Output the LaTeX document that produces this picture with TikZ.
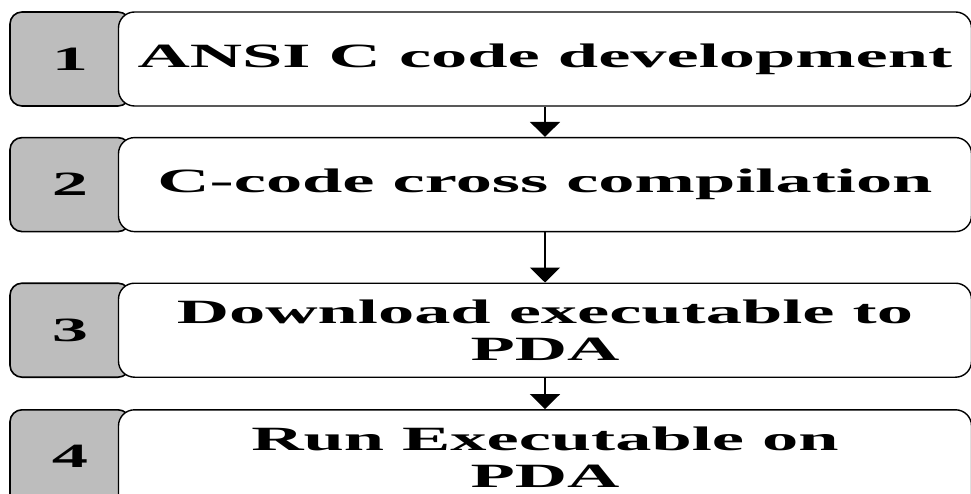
\documentclass[tikz,border=0pt]{standalone}
\usepackage{fontspec}
\usepackage{xcolor}
\usepackage{tikz}
\usetikzlibrary{arrows.meta,positioning}
\newfontfamily\stepfont{Liberation Serif}[FakeStretch=2.13]
\definecolor{tabgray}{rgb}{0.74,0.74,0.74}

\begin{document}
\begin{tikzpicture}[
  x=1pt,y=1pt,
  every node/.style={font={\stepfont\fontsize{34}{37}\selectfont\bfseries},align=center},
  arrow/.style={-{Triangle[width=30pt,length=15pt]},line width=1.6pt},
  tab/.style={rectangle,draw=black,line width=1.6pt,rounded corners=12pt,
              fill=tabgray,minimum width=120pt,inner sep=0pt},
  stepbox/.style={rectangle,draw=black,line width=1.4pt,rounded corners=16pt,
                  fill=white,minimum width=853pt,inner sep=0pt}
]
\useasboundingbox (0,0) rectangle (971,-494);
\clip (0,0) rectangle (971,-494);

\node[tab,minimum height=94pt]                   (tab1) at (70,-59) {1};
\node[tab,minimum height=94pt,below=30pt of tab1] (tab2) {2};
\node[tab,minimum height=94pt,below=50pt of tab2] (tab3) {3};
\node[tab,minimum height=106pt,text depth=12pt,below=31pt of tab3] (tab4) {4};

\node[stepbox,minimum height=94pt,right=-13pt of tab1] (step1) {ANSI C code development};
\node[stepbox,minimum height=94pt,right=-13pt of tab2] (step2) {C-code cross compilation};
\node[stepbox,minimum height=94pt,right=-13pt of tab3] (step3) {Download executable to\\PDA};
\node[stepbox,minimum height=106pt,text depth=12pt,right=-13pt of tab4] (step4) {Run Executable on\\PDA};

\draw[arrow] (step1) -- (step2);
\draw[arrow] (step2) -- (step3);
\draw[arrow] (step3) -- (step4);

\end{tikzpicture}
\end{document}
